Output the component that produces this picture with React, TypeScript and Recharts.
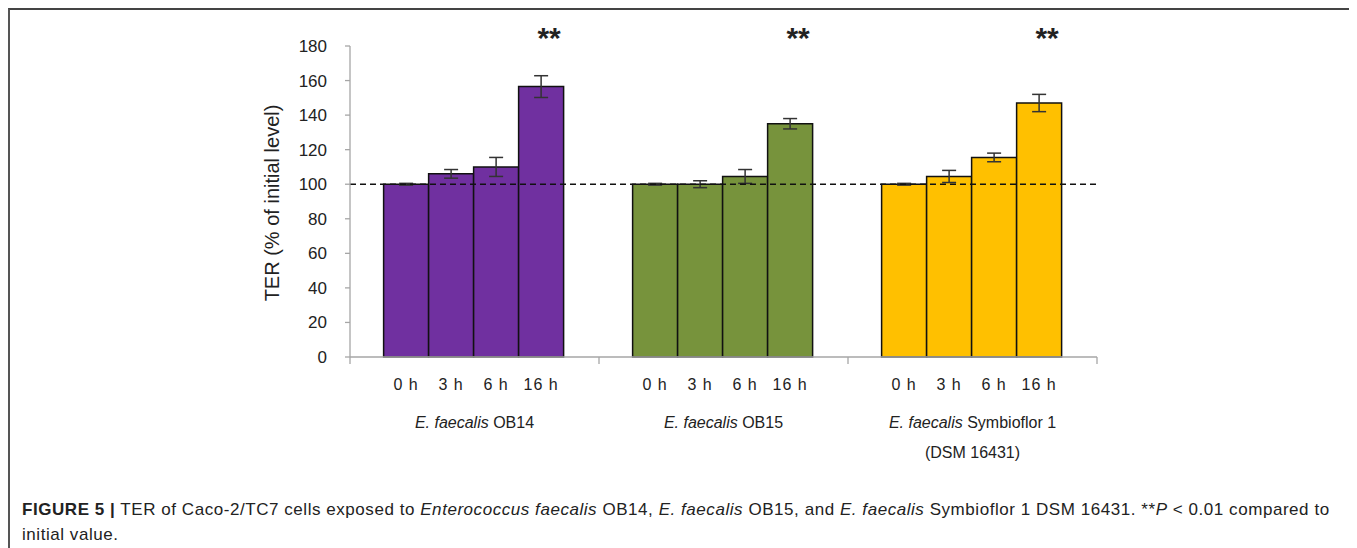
import { BarChart, Bar, XAxis, YAxis, ReferenceLine, ErrorBar, LabelList, Cell } from 'recharts';

// strains (x categories) and sampling times (one bar series each)
const strains = ['OB14', 'OB15', 'Symbioflor 1'];
const strainSubLines = ['', '', '(DSM 16431)'];
const strainColors = ['#7030A0', '#77933C', '#FFC000'];
const times = ['0 h', '3 h', '6 h', '16 h'];

// TER, % of initial level (mean and error) per strain
const ter0h = [100, 100, 100];
const err0h = [0.5, 0.5, 0.5];
const ter3h = [106, 100, 104.5];
const err3h = [2.5, 2, 3.5];
const ter6h = [110, 104.5, 115.5];
const err6h = [5.5, 4, 2.5];
const ter16h = [156.5, 135, 147];
const err16h = [6.3, 3, 5];
const significance = ['**', '**', '**'];

const yTicks = [0, 20, 40, 60, 80, 100, 120, 140, 160, 180];

const seriesKeys = ['t0', 't3', 't6', 't16'];
const seriesVals = [ter0h, ter3h, ter6h, ter16h];
const seriesErrs = [err0h, err3h, err6h, err16h];

const data = strains.map((s, i) => {
  const row: Record<string, string | number> = { name: s, sig: significance[i] };
  seriesKeys.forEach((k, j) => {
    row[k] = seriesVals[j][i];
    row[k + 'e'] = seriesErrs[j][i];
  });
  return row;
});

const W = 1349;
const H = 470;
const MARGIN = { top: 38, right: 260, bottom: 21, left: 282 };
const Y_AXIS_W = 60;
const PLOT_W = W - MARGIN.left - MARGIN.right - Y_AXIS_W;
const BAND = PLOT_W / strains.length;

const AXIS = '#A6A6A6';
const TEXT = '#222';
const FONT = '"Liberation Sans", Arial, sans-serif';

function StrainTick(props: any) {
  const { x, y, payload, index } = props;
  const half = BAND / 2;
  const sub = strainSubLines[index];
  return (
    <g>
      <line x1={x - half} y1={y} x2={x - half} y2={y + 7} stroke={AXIS} strokeWidth={1.3} />
      {index === strains.length - 1 && (
        <line x1={x + half} y1={y} x2={x + half} y2={y + 7} stroke={AXIS} strokeWidth={1.3} />
      )}
      <text x={x} y={y + 71} textAnchor="middle" fontFamily={FONT} fontSize={16} fill={TEXT}>
        <tspan fontStyle="italic">E. faecalis</tspan> {payload.value}
      </text>
      {sub && (
        <text x={x} y={y + 101} textAnchor="middle" fontFamily={FONT} fontSize={16} fill={TEXT}>
          {sub}
        </text>
      )}
    </g>
  );
}

function timeLabel(label: string) {
  return (p: any) => (
    <text
      x={p.x + p.width / 2}
      y={p.y + p.height + 33}
      textAnchor="middle"
      fontFamily={FONT}
      fontSize={16}
      letterSpacing={1}
      fill={TEXT}
    >
      {label}
    </text>
  );
}

function starLabel(p: any) {
  return (
    <text
      x={p.x + p.width / 2 + 8}
      y={MARGIN.top + 2}
      textAnchor="middle"
      fontFamily={FONT}
      fontSize={30}
      fontWeight="bold"
      fill={TEXT}
    >
      {p.value}
    </text>
  );
}

export default function App() {
  return (
    <div style={{ position: 'relative', width: W, height: 540 }}>
      <div
        style={{
          position: 'absolute', left: 0, top: 0, width: 1345, height: 560,
          borderTop: '2px solid #444', borderLeft: '2px solid #555', borderRight: '2px solid #888',
        }}
      />
      <div style={{ position: 'absolute', left: 0, top: 0 }}>
        <BarChart width={W} height={H} data={data} margin={MARGIN} barGap={0} barCategoryGap="13.5%">
          <XAxis
            dataKey="name"
            axisLine={{ stroke: AXIS, strokeWidth: 1.3 }}
            tickLine={false}
            tickSize={0}
            tickMargin={0}
            height={100}
            interval={0}
            tick={<StrainTick />}
          />
          <YAxis
            domain={[0, 180]}
            ticks={yTicks}
            width={Y_AXIS_W}
            axisLine={{ stroke: AXIS, strokeWidth: 1.3 }}
            tickLine={{ stroke: AXIS, strokeWidth: 1.3 }}
            tickSize={5}
            tickMargin={18}
            tick={{ fill: TEXT, fontSize: 17, fontFamily: FONT }}
            label={{
              content: () => (
                <text
                  transform={`translate(264, 195) rotate(-90)`}
                  textAnchor="middle"
                  dominantBaseline="central"
                  fontFamily={FONT}
                  fontSize={20}
                  fill={TEXT}
                >
                  TER (% of initial level)
                </text>
              ),
            }}
          />
          {seriesKeys.map((k, j) => (
            <Bar key={k} dataKey={k} stroke="#111" strokeWidth={1.5} isAnimationActive={false}>
              {data.map((_, i) => (
                <Cell key={i} fill={strainColors[i]} />
              ))}
              <ErrorBar dataKey={k + 'e'} width={7} stroke="#333" strokeWidth={1.5} />
              <LabelList dataKey={k} content={timeLabel(times[j])} />
              {j === seriesKeys.length - 1 && <LabelList dataKey="sig" content={starLabel} />}
            </Bar>
          ))}
          <ReferenceLine y={100} stroke="#111" strokeWidth={1.5} strokeDasharray="6 4" />
        </BarChart>
      </div>
      <div
        style={{
          position: 'absolute', left: 14, top: 489, width: 1336, whiteSpace: 'nowrap',
          fontFamily: FONT, fontSize: 17, letterSpacing: '0.55px', lineHeight: '25px', color: TEXT,
        }}
      >
        <b>FIGURE 5 |</b> TER of Caco-2/TC7 cells exposed to <i>Enterococcus faecalis</i> OB14,{' '}
        <i>E. faecalis</i> OB15, and <i>E. faecalis</i> Symbioflor 1 DSM 16431. **<i>P</i> &lt; 0.01 compared to
        <br />
        initial value.
      </div>
    </div>
  );
}
